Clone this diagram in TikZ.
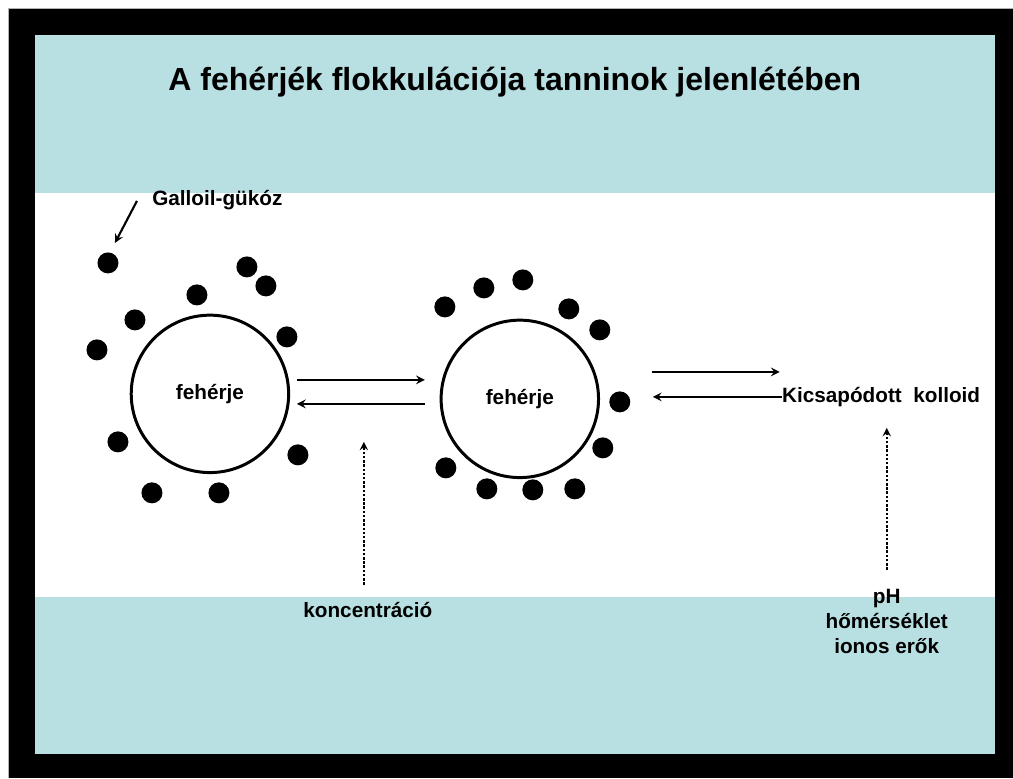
\documentclass[tikz,border=0pt]{standalone}
\usepackage{fontspec}
\setmainfont{Liberation Sans}
\usepackage{xcolor}
\usetikzlibrary{arrows, positioning}
\definecolor{bandteal}{RGB}{184,223,226}
\tikzstyle{protein} = [circle, draw, line width=1.7pt, minimum size=3.15cm, font=\bfseries\fontsize{11.8}{14}\selectfont]
\tikzstyle{galloyl} = [circle, fill=black, inner sep=0, minimum size=0.42cm]
\tikzstyle{txt} = [inner sep=0, font=\bfseries\fontsize{11.8}{14.2}\selectfont, align=center]
\tikzstyle{line} = [draw,->,>=stealth, line width=1.2pt]
\tikzstyle{factor} = [draw,->,>=stealth, line width=1.1pt, dash pattern=on 1.4pt off 1pt]

\begin{document}
\begin{tikzpicture}[x=0.02cm, y=-0.02cm]

% frame and bands
\fill[white] (0,0) rectangle (1013,778);
\fill[black] (8,8) rectangle (1013,778);
\draw[gray!60, line width=0.4pt] (8,778) -- (8,8) -- (1013,8);
\fill[white] (35,35) rectangle (995,754);
\fill[bandteal] (35,35) rectangle (995,193);
\fill[bandteal] (35,597) rectangle (995,754);

\node [font=\bfseries\fontsize{18.2}{22}\selectfont] (title) at (515,82) {A fehérjék flokkulációja tanninok jelenlétében};

% proteins
\node [protein] (P1) at (210,394) {fehérje};
\node [protein] (P2) at (520,399) {fehérje};

% galloyl glucose around the first protein
\foreach \x/\y [count=\i] in {108/263, 247/267, 266/286, 197/295, 135/320, 97/350, 287/337, 118/442, 298/455, 152/493, 219/493}
  \node [galloyl] (a\i) at (\x,\y) {};

% and around the second one
\foreach \x/\y [count=\i] in {445/307, 484/288, 523/280, 569/309, 600/330, 620/402, 603/448, 446/468, 487/489, 533/490, 575/489}
  \node [galloyl] (b\i) at (\x,\y) {};

\node [txt, anchor=west] (G) at (152,200) {Galloil-gükóz};
\coordinate (Gtip) at (115,243);
\path [line] (137,201) -- (Gtip);

\node [txt, anchor=west] (K) at (782,397) {Kicsapódott\ \ kolloid};

% equilibria
\coordinate (e1) at (297,380);
\coordinate (e2) at (425,380);
\coordinate (e3) at (425,404);
\coordinate (e4) at (297,404);
\path [line] (e1) -- (e2);
\path [line] (e3) -- (e4);

\coordinate (f1) at (652,372);
\coordinate (f2) at (780,372);
\path [line] (f1) -- (f2);
\path [line] (K.west) -- (653,397);

% conditions
\node [txt] (C) at (368,610) {koncentráció};
\coordinate (c1) at (364,585);
\coordinate (c2) at (364,442);
\path [factor] (c1) -- (c2);

\node [txt] (T) at (887,622) {pH\\hőmérséklet\\ionos erők};
\coordinate (t1) at (887,570);
\coordinate (t2) at (887,428);
\path [factor] (t1) -- (t2);

\end{tikzpicture}
\end{document}
